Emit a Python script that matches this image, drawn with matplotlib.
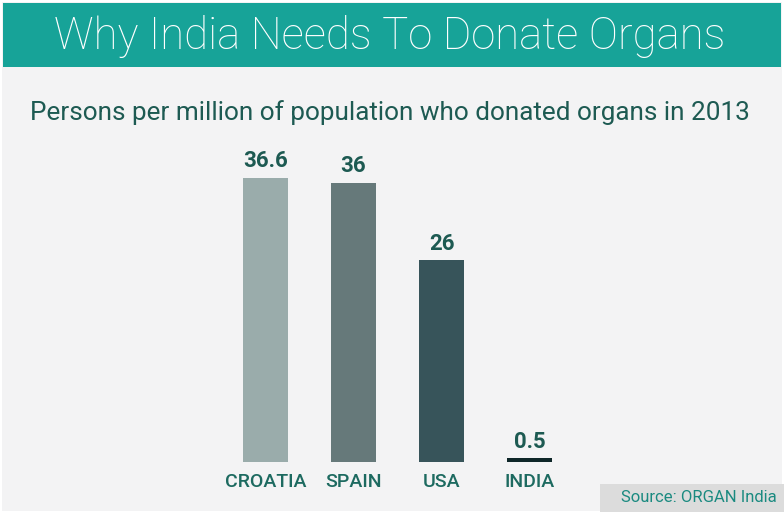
import matplotlib
matplotlib.use("Agg")
import matplotlib.pyplot as plt
from matplotlib.patches import Rectangle

categories = ["CROATIA", "SPAIN", "USA", "INDIA"]
values = [36.6, 36, 26, 0.5]
value_labels = ["36.6", "36", "26", "0.5"]
colors = ["#9aacab", "#66797a", "#37545a", "#0e2628"]

W, H = 784, 513
fig = plt.figure(figsize=(W / 100, H / 100), dpi=100)
fig.patch.set_facecolor("#ffffff")

def fx(px):
    return px / W

def fy(py):
    return 1 - py / H

# page background
fig.patches.append(Rectangle((fx(2), fy(511)), fx(780), 509 / H, transform=fig.transFigure,
                             facecolor="#f3f3f4", edgecolor="none", zorder=0))
# header band
fig.patches.append(Rectangle((fx(3), fy(67)), fx(778), 64 / H, transform=fig.transFigure,
                             facecolor="#17a398", edgecolor="none", zorder=1))
fig.text(fx(390), fy(32.5), "Why India Needs To Donate Organs", color="white",
         fontsize=31.5, fontfamily="Roboto", fontweight="light", ha="center", va="center_baseline")

fig.text(fx(390), fy(110), "Persons per million of population who donated organs in 2013",
         color="#1d5a52", fontsize=18.8, fontfamily="Roboto", ha="center", va="center_baseline")

# axes: baseline at y=462 px, centers at 265.5 + 88*i
left_px, right_px = 199.5, 598.5
top_px, base_px = 140, 462
scale = (base_px - 178) / 36.6
ax = fig.add_axes([fx(left_px), fy(base_px), (right_px - left_px) / W, (base_px - top_px) / H])
ax.set_zorder(5)
ax.set_xlim(-0.75, -0.75 + (right_px - left_px) / 88)
ax.set_ylim(0, (base_px - top_px) / scale)
ax.set_facecolor("none")
ax.axis("off")

x = list(range(len(categories)))
ax.bar(x, values, width=45 / 88, color=colors, edgecolor="none")
for xi, v, lab in zip(x, values, value_labels):
    ax.annotate(lab, (xi, v), xytext=(0, 4), textcoords="offset points", ha="center", va="bottom",
                fontsize=16, fontweight="bold", fontfamily="Roboto", color="#1d5a52")
    ax.annotate(categories[xi], (xi, 0), xytext=(0, -8), textcoords="offset points", ha="center",
                va="top", fontsize=14, fontweight="medium", fontfamily="Roboto", color="#1d6a60",
                annotation_clip=False)

# source box
fig.patches.append(Rectangle((fx(600), fy(512)), fx(184), 28 / H, transform=fig.transFigure,
                             facecolor="#dcdcdc", edgecolor="none", zorder=1))
fig.text(fx(699), fy(498), "Source: ORGAN India", color="#1a8a80", fontsize=12,
         fontfamily="Roboto", ha="center", va="center", zorder=2)

fig.savefig("out.png", dpi=100, facecolor=fig.get_facecolor())
